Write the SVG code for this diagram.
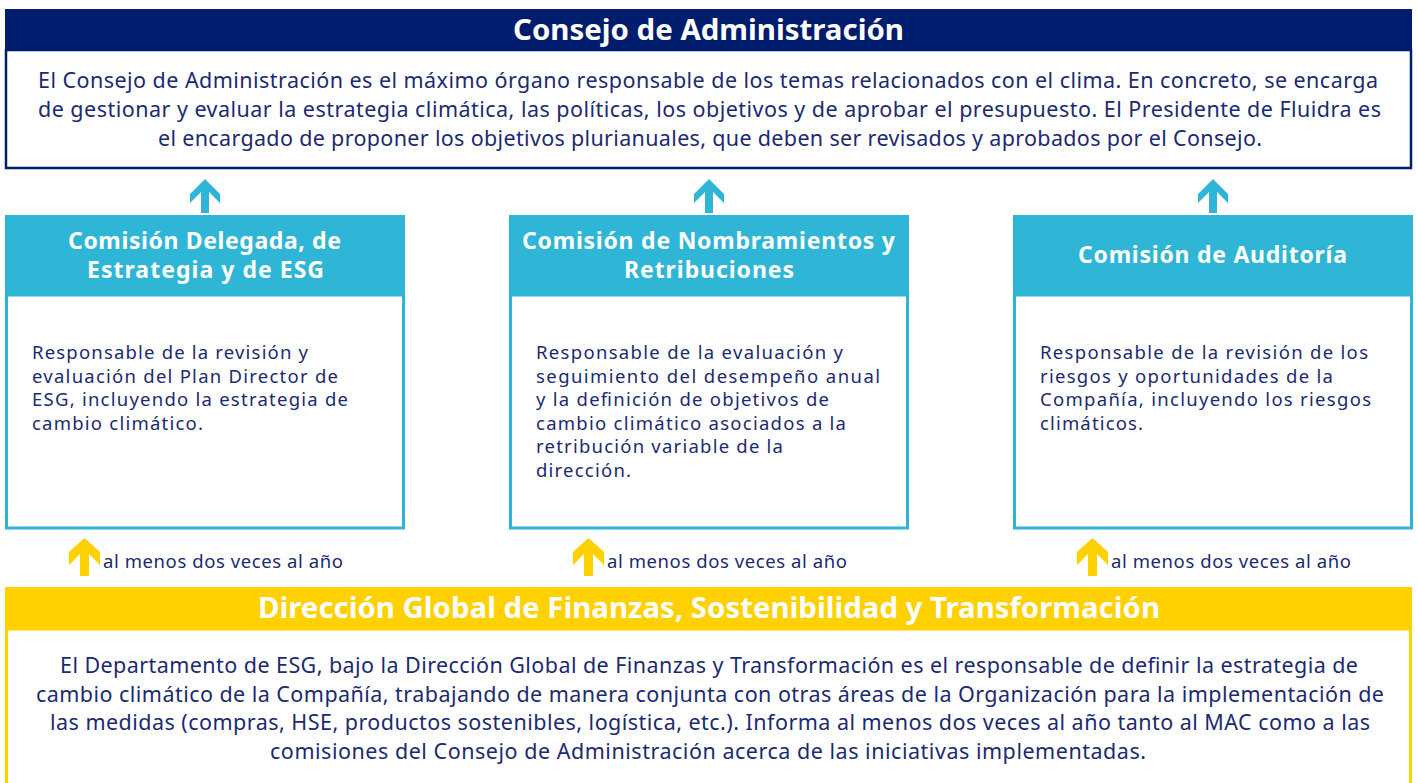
<svg xmlns="http://www.w3.org/2000/svg" width="1417" height="783" viewBox="0 0 1417 783">
<defs>
<style>
text{font-family:"Noto Sans","Open Sans","Liberation Sans",sans-serif;}
.body{font-size:21.5px;fill:#1b2a72;}
.small{font-size:18.5px;fill:#1b2a72;}
.lbl{font-size:18.5px;fill:#1b2a72;}
.title{font-size:28px;font-weight:bold;fill:#ffffff;}
.ctitle{font-size:23px;font-weight:bold;fill:#ffffff;}
.cbox{fill:#ffffff;stroke:#2fb6d7;stroke-width:3;}
.chead{fill:#2fb6d7;}
</style>
<path id="arrowC" d="M0,0 L15,15 L15,24 L4,13 L4,34 L-4,34 L-4,13 L-15,24 L-15,15 Z"/>
<path id="arrowY" d="M0,0 L15.5,14 L15.5,27 L4.5,16 L4.5,38 L-4.5,38 L-4.5,16 L-15.5,27 L-15.5,14 Z"/>
</defs>

<g id="consejo">
<rect x="6" y="50" width="1405" height="118" fill="#ffffff" stroke="#001c6c" stroke-width="2.5"/>
<rect x="5" y="9" width="1407" height="42" fill="#001c6c"/>
<text class="title" x="513" y="40" textLength="391" lengthAdjust="spacingAndGlyphs">Consejo de Administración</text>
<text class="body">
<tspan x="38" y="88" textLength="1340">El Consejo de Administración es el máximo órgano responsable de los temas relacionados con el clima. En concreto, se encarga</tspan>
<tspan x="38" y="117" textLength="1343">de gestionar y evaluar la estrategia climática, las políticas, los objetivos y de aprobar el presupuesto. El Presidente de Fluidra es</tspan>
<tspan x="158" y="146" textLength="1104">el encargado de proponer los objetivos plurianuales, que deben ser revisados y aprobados por el Consejo.</tspan>
</text>
</g>

<g id="comision-delegada">
<rect class="cbox" x="6.5" y="295" width="397" height="233"/>
<rect class="chead" x="5" y="215" width="400" height="80"/>
<text class="ctitle"><tspan x="68" y="249" textLength="273">Comisión Delegada, de</tspan><tspan x="87" y="278" textLength="237">Estrategia y de ESG</tspan></text>
<text class="small"><tspan x="32" y="359" textLength="276">Responsable de la revisión y</tspan><tspan x="32" y="383" textLength="306">evaluación del Plan Director de</tspan><tspan x="32" y="406" textLength="316">ESG, incluyendo la estrategia de</tspan><tspan x="32" y="430" textLength="171">cambio climático.</tspan></text>
</g>

<g id="comision-nombramientos">
<rect class="cbox" x="510.5" y="295" width="397" height="233"/>
<rect class="chead" x="509" y="215" width="400" height="80"/>
<text class="ctitle"><tspan x="522" y="249" textLength="373">Comisión de Nombramientos y</tspan><tspan x="624" y="278" textLength="170">Retribuciones</tspan></text>
<text class="small"><tspan x="536" y="359" textLength="307">Responsable de la evaluación y</tspan><tspan x="536" y="383" textLength="344">seguimiento del desempeño anual</tspan><tspan x="536" y="406" textLength="293">y la definición de objetivos de</tspan><tspan x="536" y="430" textLength="310">cambio climático asociados a la</tspan><tspan x="536" y="453" textLength="247">retribución variable de la</tspan><tspan x="536" y="477" textLength="95">dirección.</tspan></text>
</g>

<g id="comision-auditoria">
<rect class="cbox" x="1014.5" y="295" width="397" height="233"/>
<rect class="chead" x="1013" y="215" width="400" height="80"/>
<text class="ctitle" x="1078" y="263" textLength="269">Comisión de Auditoría</text>
<text class="small"><tspan x="1040" y="359" textLength="328">Responsable de la revisión de los</tspan><tspan x="1040" y="383" textLength="293">riesgos y oportunidades de la</tspan><tspan x="1040" y="406" textLength="331">Compañía, incluyendo los riesgos</tspan><tspan x="1040" y="430" textLength="103">climáticos.</tspan></text>
</g>

<g id="direccion">
<rect x="6.5" y="629" width="1404" height="160" fill="#ffffff" stroke="#ffd100" stroke-width="3"/>
<rect x="5" y="587" width="1407" height="42" fill="#ffd100"/>
<text class="title" x="258" y="618" textLength="902" lengthAdjust="spacingAndGlyphs">Dirección Global de Finanzas, Sostenibilidad y Transformación</text>
<text class="body">
<tspan x="60" y="673" textLength="1298">El Departamento de ESG, bajo la Dirección Global de Finanzas y Transformación es el responsable de definir la estrategia de</tspan>
<tspan x="36" y="702" textLength="1348">cambio climático de la Compañía, trabajando de manera conjunta con otras áreas de la Organización para la implementación de</tspan>
<tspan x="50" y="730" textLength="1320">las medidas (compras, HSE, productos sostenibles, logística, etc.). Informa al menos dos veces al año tanto al MAC como a las</tspan>
<tspan x="270" y="759" textLength="876">comisiones del Consejo de Administración acerca de las iniciativas implementadas.</tspan>
</text>
</g>

<g id="connectors">
<use href="#arrowC" x="205" y="179" fill="#2fb6d7"/>
<use href="#arrowC" x="709" y="179" fill="#2fb6d7"/>
<use href="#arrowC" x="1213" y="179" fill="#2fb6d7"/>
<use href="#arrowY" x="84.5" y="538" fill="#ffd100"/>
<use href="#arrowY" x="588.5" y="538" fill="#ffd100"/>
<use href="#arrowY" x="1092.5" y="538" fill="#ffd100"/>
<text class="lbl" x="103" y="568" textLength="240">al menos dos veces al año</text>
<text class="lbl" x="607" y="568" textLength="240">al menos dos veces al año</text>
<text class="lbl" x="1111" y="568" textLength="240">al menos dos veces al año</text>
</g>
</svg>
